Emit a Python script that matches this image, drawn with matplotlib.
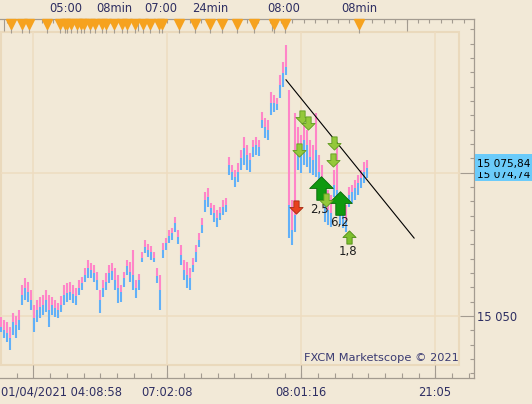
import numpy as np
import matplotlib
matplotlib.use("Agg")
import matplotlib.pyplot as plt
from matplotlib.path import Path
from matplotlib.patches import Rectangle
from matplotlib.transforms import blended_transform_factory

# tick bars (ask high / split / bid low), one every bar index
high = [15049.8, 15049.3, 15049.0, 15048.1, 15050.5, 15050.0, 15051.1, 15055.4, 15056.6, 15055.9,
        15054.5, 15051.9, 15052.8, 15053.3, 15053.7, 15054.5, 15053.7, 15053.3, 15052.8, 15052.3,
        15053.5, 15055.4, 15055.8, 15055.9, 15055.4, 15054.9, 15056.3, 15056.8, 15058.4, 15059.8,
        15059.3, 15058.9, 15057.7, 15054.5, 15056.3, 15057.5, 15058.9, 15059.3, 15058.4, 15057.2,
        15055.4, 15057.7, 15059.8, 15059.4, 15061.5, 15056.3, 15057.3, 15061.2, 15063.3, 15062.6,
        15062.2, 15061.2, 15058.4, 15057.2, 15062.7, 15063.6, 15065.0, 15065.4, 15067.3, 15065.0,
        15062.4, 15059.8, 15059.4, 15058.4, 15060.1, 15062.4, 15064.5, 15067.1, 15071.6, 15072.3,
        15069.7, 15069.4, 15068.5, 15069.0, 15070.2, 15070.6, 15077.7, 15076.3, 15075.5, 15076.7,
        15079.0, 15081.2, 15079.8, 15078.4, 15080.7, 15081.2, 15080.7, 15085.6, 15084.5, 15084.2,
        15089.1, 15088.6, 15088.0, 15092.0, 15094.3, 15097.3, 15089.4, 15070.2, 15085.4, 15083.0,
        15081.6, 15083.7, 15082.4, 15080.7, 15079.8, 15085.4, 15078.1, 15076.3, 15072.9, 15072.0,
        15071.1, 15075.5, 15079.5, 15070.8, 15070.2, 15069.4, 15072.5, 15072.9, 15073.7, 15074.6,
        15075.5, 15076.9, 15077.2]
mid = [15048.1, 15047.6, 15047.0, 15046.2, 15049.0, 15048.4, 15049.3, 15053.7, 15054.9, 15054.2,
       15052.8, 15049.7, 15051.1, 15051.6, 15051.9, 15052.8, 15051.1, 15051.9, 15051.4, 15051.1,
       15051.9, 15053.7, 15054.0, 15054.2, 15053.8, 15053.5, 15054.9, 15055.8, 15057.2, 15058.4,
       15058.0, 15057.5, 15056.3, 15052.8, 15054.9, 15055.9, 15057.5, 15057.9, 15056.3, 15054.9,
       15054.2, 15056.6, 15058.7, 15057.7, 15057.2, 15054.9, 15056.3, 15060.1, 15062.0, 15061.5,
       15061.2, 15060.1, 15057.0, 15054.5, 15061.5, 15062.7, 15064.0, 15064.5, 15066.2, 15063.8,
       15060.6, 15058.0, 15057.2, 15056.6, 15058.9, 15061.2, 15063.3, 15065.9, 15070.2, 15070.8,
       15068.8, 15068.0, 15067.1, 15068.0, 15069.0, 15069.4, 15076.3, 15075.1, 15074.3, 15075.1,
       15077.6, 15079.3, 15078.1, 15077.2, 15079.5, 15079.8, 15079.5, 15084.2, 15083.0, 15082.4,
       15087.2, 15087.2, 15087.0, 15090.3, 15092.4, 15093.4, 15069.4, 15065.0, 15067.6, 15079.0,
       15078.1, 15080.7, 15079.8, 15077.7, 15077.2, 15079.0, 15075.1, 15073.7, 15069.4, 15068.5,
       15068.0, 15072.9, 15072.0, 15069.0, 15067.6, 15066.8, 15071.1, 15071.6, 15072.3, 15073.2,
       15074.1, 15075.1, 15075.8]
low = [15047.2, 15046.2, 15045.5, 15044.1, 15046.7, 15046.2, 15047.6, 15051.9, 15052.8, 15052.4,
       15051.1, 15047.2, 15049.0, 15049.7, 15050.2, 15050.7, 15048.1, 15050.2, 15049.8, 15049.7,
       15050.7, 15051.9, 15052.4, 15052.8, 15052.3, 15051.9, 15053.7, 15054.5, 15055.9, 15056.6,
       15056.6, 15055.9, 15054.5, 15050.5, 15053.3, 15054.5, 15055.8, 15056.3, 15054.5, 15052.3,
       15052.4, 15055.1, 15057.2, 15055.9, 15054.5, 15053.1, 15054.5, 15059.4, 15061.0, 15060.3,
       15059.8, 15059.4, 15055.8, 15051.1, 15060.1, 15061.5, 15062.7, 15063.3, 15064.7, 15062.6,
       15058.9, 15056.3, 15054.9, 15054.5, 15057.7, 15059.4, 15062.0, 15064.5, 15068.1, 15069.0,
       15067.6, 15066.4, 15065.5, 15066.8, 15067.6, 15068.1, 15074.6, 15073.7, 15072.5, 15073.4,
       15075.5, 15076.3, 15075.5, 15075.1, 15077.7, 15078.1, 15077.9, 15082.8, 15081.1, 15080.7,
       15085.1, 15085.6, 15085.9, 15088.0, 15090.0, 15092.0, 15063.6, 15062.4, 15064.7, 15075.5,
       15075.0, 15076.3, 15076.0, 15075.0, 15074.6, 15074.3, 15072.3, 15071.1, 15066.4, 15065.9,
       15065.5, 15070.8, 15069.0, 15065.9, 15065.4, 15064.7, 15069.0, 15069.7, 15070.2, 15071.1,
       15072.3, 15073.2, 15074.1]

last_price = 15075.84
bid_price = "15 074,74"

# trend line (bar index, price)
trend_x = [95.0, 137.7]
trend_y = [15091.2, 15063.6]

# signals
sell_x = [100.3, 102.3, 99.3, 111.0, 110.7, 108.3]
sell_p = [15084.7, 15083.7, 15079.0, 15080.2, 15077.2, 15070.2]
buy_big_x = [106.7, 113.0]
buy_big_p = [15072.3, 15069.7]
buy_small_x = [116.0]
buy_small_p = [15063.8]
stop_x = [98.3]
stop_p = [15069.0]
sig_text = ["2,5", "6,2", "1,8"]
sig_text_x = [106.3, 112.7, 115.7]
sig_text_p = [15068.6, 15066.4, 15061.3]

# time axis
bottom_major = [10.77, 55.33, 100.0, 144.67]
bottom_labels = ["", "07:02:08", "08:01:16", "21:05"]
start_label = "01/04/2021 04:08:58"
events_x = [3.4, 7.03, 9.4, 15.17, 19.57, 21.17, 21.93, 23.43, 25.33, 26.8, 27.6, 29.63,
            31.33, 33.6, 35.07, 37.8, 40.17, 42.1, 44.7, 47.17, 49.77, 52.6, 53.73, 59.4,
            64.7, 69.8, 73.77, 78.5, 84.27, 91.07, 94.67, 119.33]
top_label_x = [21.5, 37.67, 53.17, 69.67, 94.33, 119.33]
top_labels = ["05:00", "08min", "07:00", "24min", "08:00", "08min"]

BG = "#F2E9D7"
GRAY = "#A39B90"
TXT = "#2E2E62"
PINK = "#FF85C8"
BLUE = "#62B0F8"
GRIDC = "#EEDCC0"
BOXC = "#6BCBFA"

W, H = 532, 404
fig = plt.figure(figsize=(W / 100, H / 100), dpi=100)
fig.patch.set_facecolor(BG)
# axis frame: x 0..474 px, y 19..378 px
ax = fig.add_axes([0, (H - 378) / H, 474 / W, (378 - 19) / H])
ax.set_facecolor(BG)


def price_at(ypx):
    return 15075 + (172.7 - ypx) / 5.733


def idx_at(xpx):
    return (xpx - 1) / 3.0


ax.set_xlim(idx_at(0), idx_at(474))
ax.set_ylim(price_at(378), price_at(19))

for s in ["top", "right", "bottom"]:
    ax.spines[s].set_color(GRAY)
    ax.spines[s].set_linewidth(0.9)
ax.spines["left"].set_visible(False)

# panel border and grid
ax.add_patch(Rectangle((1 / 474, (378 - 365) / 359), 458 / 474, 333 / 359, fill=False,
                       edgecolor="#EAD9BC", lw=1.5, transform=ax.transAxes, zorder=1))
ax.vlines(bottom_major, price_at(365), price_at(32), color=GRIDC, lw=1.1, zorder=1)
ax.hlines([15050, 15075], idx_at(1), idx_at(459), color=GRIDC, lw=1.1, zorder=1)

# bars
xb = np.arange(len(high))
ax.vlines(xb, low, mid, color=BLUE, lw=1.5, zorder=3)
ax.vlines(xb, mid, high, color=PINK, lw=1.5, zorder=3)

ax.plot(trend_x, trend_y, color="black", lw=0.8, zorder=4, clip_on=False)

# arrow markers
down = Path([(-0.2, 0.5), (0.2, 0.5), (0.2, 0.0), (0.5, 0.0), (0, -0.5), (-0.5, 0.0),
             (-0.2, 0.0), (-0.2, 0.5)], closed=True)
up = Path([(-0.2, -0.5), (0.2, -0.5), (0.2, 0.0), (0.5, 0.0), (0, 0.5), (-0.5, 0.0),
           (-0.2, 0.0), (-0.2, -0.5)], closed=True)

for tx, tp, t in zip(sig_text_x, sig_text_p, sig_text):
    ax.text(tx, tp, t, fontsize=8.5, color="#1E1E1E", ha="center", va="center", zorder=4)

ax.plot(stop_x, stop_p, ls="none", marker=down, markersize=9.5, markerfacecolor="#E8401E",
        markeredgecolor="#A52A10", markeredgewidth=0.6, zorder=5)
ax.plot(buy_big_x, buy_big_p, ls="none", marker=up, markersize=17, markerfacecolor="#0F9A0F",
        markeredgecolor="#0A6A0A", markeredgewidth=0.6, zorder=5)
ax.plot(sell_x, sell_p, ls="none", marker=down, markersize=9.5, markerfacecolor="#94C83A",
        markeredgecolor="#5E9A1E", markeredgewidth=0.6, zorder=6)
ax.plot(buy_small_x, buy_small_p, ls="none", marker=up, markersize=9.5, markerfacecolor="#7DBF2E",
        markeredgecolor="#4E8A14", markeredgewidth=0.6, zorder=6)

# right price axis
ax.yaxis.tick_right()
ax.set_yticks([15050, 15075])
ax.set_yticklabels(["15 050", ""])
ax.set_yticks(np.arange(15040, 15101, 2.5), minor=True)
ax.tick_params(axis="y", which="major", direction="in", length=10, width=0.8, color=GRAY,
               pad=2, labelsize=8.3, labelcolor=TXT)
ax.tick_params(axis="y", which="minor", direction="in", length=2.9, width=0.8, color=GRAY)

# bottom time axis
ax.set_xticks(bottom_major)
ax.set_xticklabels(bottom_labels)
ax.set_xticks(np.arange(bottom_major[0] - 5.583, idx_at(474), 5.583), minor=True)
ax.tick_params(axis="x", which="major", direction="in", length=9.4, width=0.8, color=GRAY,
               pad=6, labelsize=8.3, labelcolor=TXT)
ax.tick_params(axis="x", which="minor", direction="in", length=3.6, width=0.8, color=GRAY)
ax.text(idx_at(1), -0.039, start_label, transform=blended_transform_factory(ax.transData, ax.transAxes),
        ha="left", va="center", fontsize=8.3, color=TXT)

# top event strip
tb = blended_transform_factory(ax.transData, ax.transAxes)
reg = np.arange(idx_at(406.5), idx_at(0), -3.8)
reg = np.concatenate([reg, np.arange(idx_at(406.5) + 3.8, idx_at(474), 3.8)])
ax.vlines(reg, 1 - 4 / 359, 1, color=GRAY, lw=0.8, transform=tb, clip_on=False)
tall = np.arange(idx_at(406.5), idx_at(0), -44.67)
ax.vlines(tall, 1 - 12 / 359, 1, color=GRAY, lw=0.8, transform=tb, clip_on=False)
ax.vlines(events_x, 1 - 14 / 359, 1, color=GRAY, lw=0.8, transform=tb, clip_on=False)
ax.plot(events_x, [1 - 4.5 / 359] * len(events_x), ls="none", marker="v", markersize=6.5,
        color="#F6A21E", transform=tb, clip_on=False, zorder=6)
for lx, lt in zip(top_label_x, top_labels):
    ax.text(lx, (378 - 8.5) / 359, lt, transform=tb, ha="center", va="center",
            fontsize=8.3, color=TXT)

# current price labels (ask over bid, each on its own blue tag)
fig.canvas.draw()
yc = ax.transData.transform((0, last_price))[1]
bid_tag = Rectangle((475 / W, (yc - 13.5) / H), (W - 475) / W, 27 / H, facecolor=BOXC,
                    edgecolor="none", transform=fig.transFigure, zorder=1)
fig.add_artist(bid_tag)
t2 = fig.text(477 / W, (yc - 7.5) / H, bid_price, fontsize=7.6, color="black", va="center", zorder=2)
t2.set_clip_path(bid_tag)
ask_tag = Rectangle((475 / W, (yc - 4) / H), (W - 475) / W, 17.5 / H, facecolor=BOXC,
                    edgecolor="none", transform=fig.transFigure, zorder=3)
fig.add_artist(ask_tag)
fig.text(477 / W, (yc + 3.5) / H, f"{last_price:,.2f}".replace(",", " ").replace(".", ","),
         fontsize=7.6, color="black", va="center", zorder=4)

fig.text(304 / W, (H - 358) / H, "FXCM Marketscope \u00a9 2021", fontsize=8.2, color="#3A3A72",
         va="center", ha="left")

fig.savefig("out.png", dpi=100, facecolor=BG)
